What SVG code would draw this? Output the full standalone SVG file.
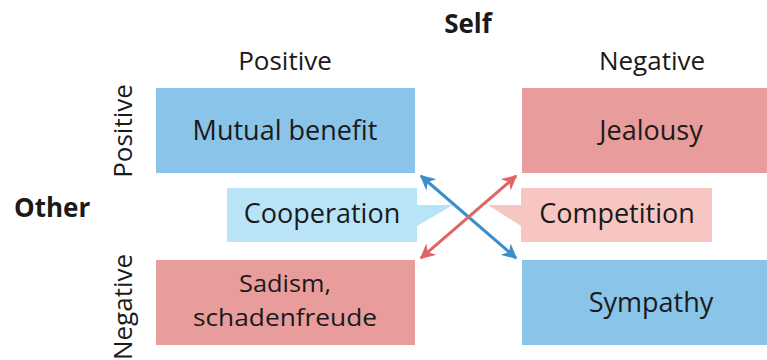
<svg xmlns="http://www.w3.org/2000/svg" width="767" height="360" viewBox="0 0 767 360">
<defs>
<style>
text{font-family:"Open Sans","Noto Sans",sans-serif;fill:#1a1a1a;}
.lbl{font-size:27px;text-anchor:middle;}
.sm{font-size:24.5px;}
.hd{font-size:26px;text-anchor:middle;}
.bold{font-size:26px;font-weight:bold;}
.blue{fill:#8AC4E8;}
.red{fill:#E89C9C;}
.lblue{fill:#B9E4F8;}
.lred{fill:#F8C6C2;}
.ab{stroke:#3A8FCB;stroke-width:3;fill:none;}
.ar{stroke:#E06464;stroke-width:3;fill:none;}
</style>
<marker id="hb" viewBox="0 0 10 10" refX="9" refY="5" markerWidth="5" markerHeight="5" orient="auto-start-reverse" markerUnits="strokeWidth">
<path d="M0,0 L10,5 L0,10 L3,5 Z" fill="#3A8FCB"/>
</marker>
<marker id="hr" viewBox="0 0 10 10" refX="9" refY="5" markerWidth="5" markerHeight="5" orient="auto-start-reverse" markerUnits="strokeWidth">
<path d="M0,0 L10,5 L0,10 L3,5 Z" fill="#E06464"/>
</marker>
</defs>
<g id="headers">
<text class="bold" x="468" y="33" text-anchor="middle">Self</text>
<text class="hd" x="285" y="70">Positive</text>
<text class="hd" x="652" y="70">Negative</text>
<text class="bold" x="14" y="217">Other</text>
<text class="hd" transform="translate(132,131) rotate(-90)">Positive</text>
<text class="hd" transform="translate(132,307) rotate(-90)">Negative</text>
</g>
<g id="mutual-benefit">
<rect class="blue" x="156" y="88" width="259" height="85"/>
<text class="lbl" x="285" y="140">Mutual benefit</text>
</g>
<g id="jealousy">
<rect class="red" x="522" y="88" width="259" height="85"/>
<text class="lbl" x="651" y="140">Jealousy</text>
</g>
<g id="cooperation">
<path class="lblue" d="M227,188 H417 V205 H453 L417,226 V242 H227 Z"/>
<text class="lbl" x="322" y="223">Cooperation</text>
</g>
<g id="competition">
<path class="lred" d="M712,188 H521 V205 H488 L521,226 V242 H712 Z"/>
<text class="lbl" x="617" y="223">Competition</text>
</g>
<g id="sadism">
<rect class="red" x="156" y="260" width="259" height="85"/>
<text class="lbl sm" x="285" y="292" textLength="92" lengthAdjust="spacingAndGlyphs">Sadism,</text>
<text class="lbl sm" x="285" y="326" textLength="184" lengthAdjust="spacingAndGlyphs">schadenfreude</text>
</g>
<g id="sympathy">
<rect class="blue" x="522" y="260" width="259" height="85"/>
<text class="lbl" x="651" y="312">Sympathy</text>
</g>
<g id="connectors">
<line class="ab" x1="421" y1="176" x2="516" y2="258" marker-start="url(#hb)" marker-end="url(#hb)"/>
<line class="ar" x1="516" y1="176" x2="421" y2="258" marker-start="url(#hr)" marker-end="url(#hr)"/>
</g>
</svg>
